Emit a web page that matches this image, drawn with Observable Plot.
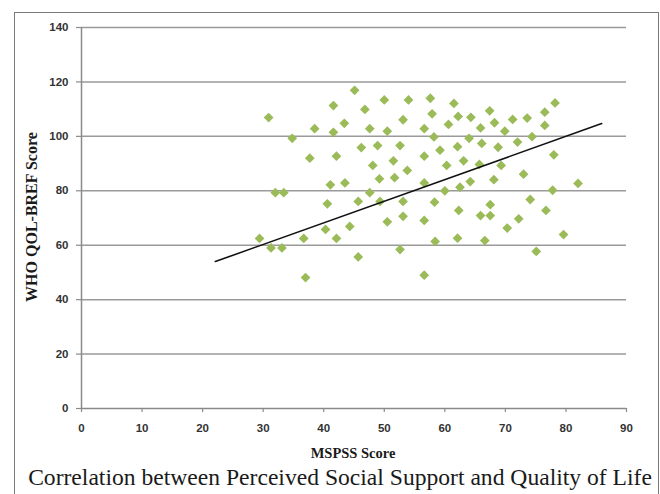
<!DOCTYPE html>
<html><head><meta charset="utf-8">
<script src="https://cdn.jsdelivr.net/npm/d3@7"></script>
<script src="https://cdn.jsdelivr.net/npm/@observablehq/plot@0.6"></script>
<style>
body{margin:0;background:#fff;width:660px;height:494px;overflow:hidden;position:relative}
#frame{position:absolute;left:14px;top:12px;width:645px;height:500px;border:1.5px solid #7a7a7a;box-sizing:border-box}
#chart{position:absolute;left:0;top:0}
.t{position:absolute;font-family:"Liberation Serif","Times New Roman",serif;color:#1a1a1a;white-space:nowrap}
#xt{left:253px;width:200px;top:445px;text-align:center;font-weight:bold;font-size:14.5px}
#yt{left:32px;top:217px;transform:translate(-50%,-50%) rotate(-90deg);font-weight:bold;font-size:16px}
#cap{left:0;width:680px;top:466px;text-align:center;font-size:23.6px;line-height:1}
</style></head>
<body>
<div id="frame"></div>
<div id="chart"></div>
<div class="t" id="xt">MSPSS Score</div>
<div class="t" id="yt">WHO QOL-BREF Score</div>
<div class="t" id="cap">Correlation between Perceived Social Support and Quality of Life</div>
<script>
const mspss = [45.1,50.0,54.0,41.6,46.8,30.9,53.1,43.4,38.5,41.6,47.6,50.5,34.8,46.2,48.9,52.6,37.7,42.1,48.1,51.5,53.8,49.2,51.7,41.1,43.5,32.0,33.4,47.6,40.6,45.7,49.3,53.1,
57.6,61.5,78.2,67.4,76.5,57.9,62.2,64.3,71.2,73.6,60.6,68.2,76.5,56.6,65.9,69.9,58.2,64.0,74.4,66.1,72.0,59.2,62.1,68.8,56.6,78.0,63.1,65.7,69.3,60.3,73.0,56.6,64.2,68.1,82.0,60.0,62.5,77.8,58.3,74.1,67.5,62.3,65.9,67.5,76.7,
53.1,50.5,44.3,40.3,42.1,36.7,29.4,31.3,33.1,52.6,45.7,37.0,
56.6,72.2,70.3,79.6,58.4,62.1,66.6,75.1,56.6];
const whoqol = [116.9,113.4,113.4,111.3,109.9,106.9,106.1,104.8,102.8,101.5,102.8,101.9,99.3,95.9,96.6,96.6,92.0,92.7,89.3,91.0,87.5,84.4,84.8,82.2,82.9,79.3,79.3,79.3,75.2,76.1,76.1,76.1,
114.0,112.1,112.3,109.4,108.9,108.3,107.3,107.0,106.2,106.7,104.4,105.0,104.0,102.8,103.1,101.9,99.8,99.3,99.9,97.4,97.9,94.9,96.2,96.0,92.7,93.2,91.0,89.7,89.3,89.3,86.1,82.9,83.4,84.1,82.7,80.0,81.3,80.2,75.8,76.8,74.9,72.8,70.9,70.9,72.8,
70.6,68.6,66.9,65.8,62.5,62.5,62.5,59.0,59.0,58.4,55.7,48.1,
69.1,69.7,66.3,63.9,61.4,62.6,61.7,57.7,49.0];
const trendX = [22.1, 85.9];
const trendY = [54.0, 104.7];
const xTicks = [0,10,20,30,40,50,60,70,80,90];
const yTicks = [0,20,40,60,80,100,120,140];

const pts = mspss.map((x,i)=>({x, y: whoqol[i]}));
const trend = trendX.map((x,i)=>({x, y: trendY[i]}));

const plot = Plot.plot({
  width: 660, height: 440,
  marginLeft: 81, marginRight: 34, marginTop: 27, marginBottom: 32,
  style: {background:"transparent", fontFamily:"'Liberation Sans',Arial,sans-serif", fontSize:"11.5px", color:"#333"},
  x: {domain:[0,90]},
  y: {domain:[0,140]},
  marks: [
    Plot.gridY(yTicks.filter(d=>d>0), {stroke:"#9a9a9a", strokeOpacity:1, strokeWidth:1.5}),
    Plot.ruleY([0], {stroke:"#8a8a8a", strokeWidth:1.5}),
    Plot.ruleX([0], {stroke:"#8a8a8a", strokeWidth:1.5}),
    Plot.axisY(yTicks, {tickSize:5, tickPadding:8, stroke:"#8a8a8a", strokeWidth:1.2, fontWeight:"bold", fill:"#333", label:null}),
    Plot.axisX(xTicks, {tickSize:4, tickPadding:11, stroke:"#8a8a8a", strokeWidth:1.2, fontWeight:"bold", fill:"#333", label:null}),
    Plot.dot(pts, {x:"x", y:"y", symbol:"diamond2", r:4.4, fill:"#9bbb59", stroke:"none"}),
    Plot.line(trend, {x:"x", y:"y", stroke:"#111", strokeWidth:1.6})
  ]
});
document.getElementById("chart").appendChild(plot);
</script>
</body></html>
